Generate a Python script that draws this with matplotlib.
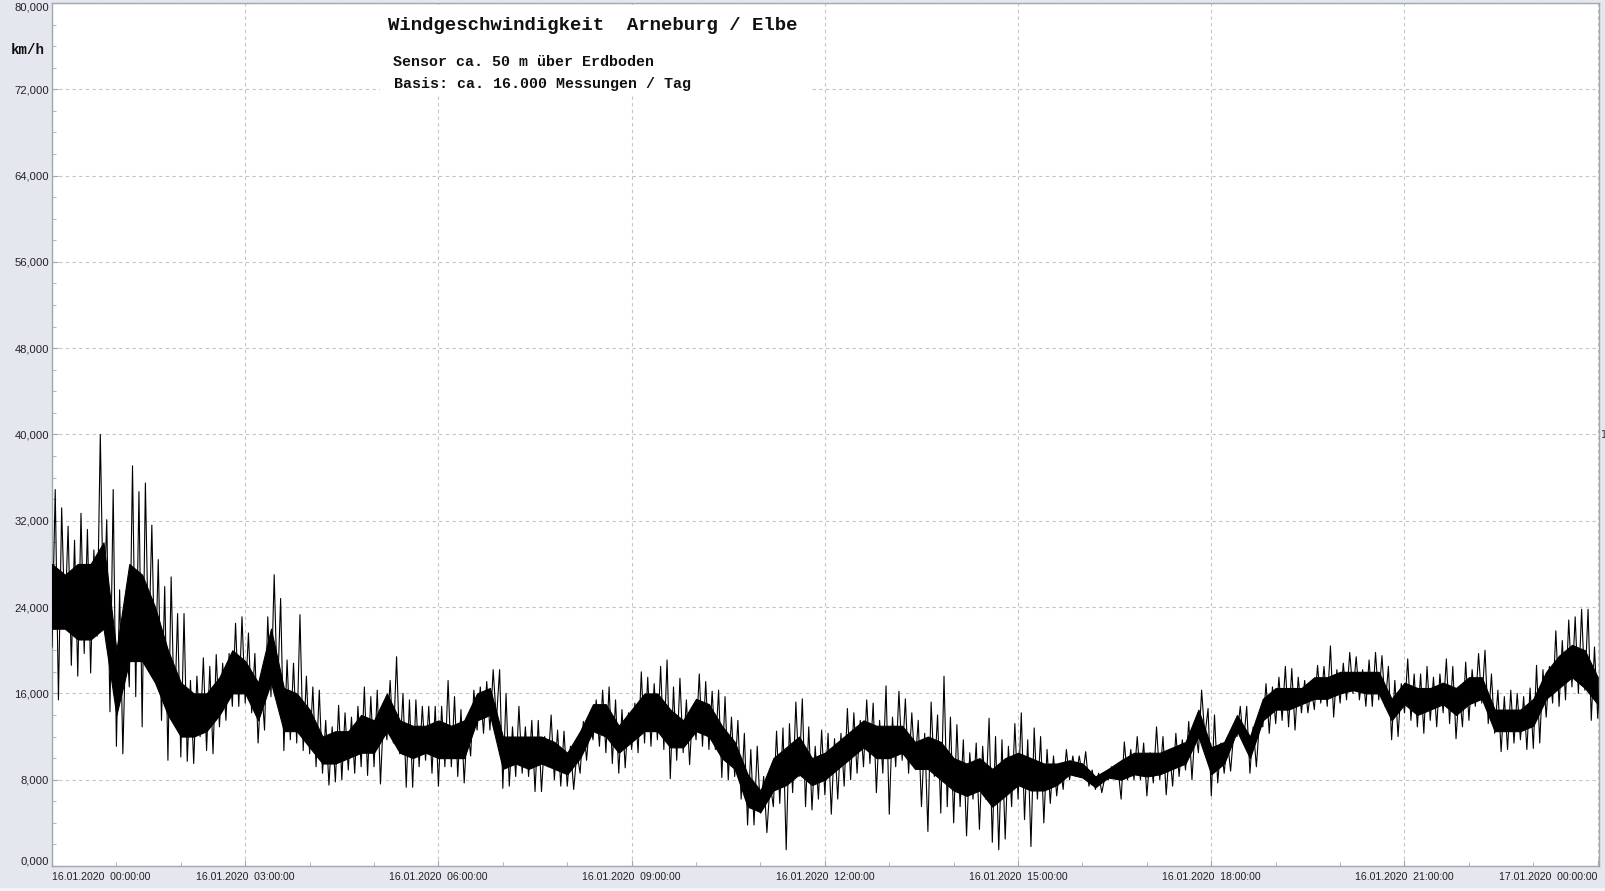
import matplotlib
matplotlib.use('Agg')
import matplotlib.pyplot as plt
from matplotlib.patches import Rectangle
import numpy as np

# wind speed km/h, min / max per 0.1 h bin, 16.01.2020 00:00 .. 17.01.2020 00:00
spd_hi = [
    34.9, 33.2, 31.5, 30.2, 32.7, 31.2, 29.3, 40.0, 32.1, 34.9,
    25.6, 22.2, 37.1, 34.7, 35.5, 31.6, 28.4, 25.9, 26.8, 23.4,
    23.4, 17.2, 17.6, 19.3, 18.5, 19.6, 18.8, 19.7, 22.5, 23.1,
    21.6, 19.7, 17.2, 23.1, 27.0, 24.8, 19.1, 18.8, 23.3, 17.6,
    16.6, 16.3, 13.5, 12.9, 14.9, 14.2, 13.8, 14.8, 16.6, 15.7,
    16.3, 14.5, 17.2, 19.4, 16.0, 15.4, 15.4, 14.8, 14.8, 14.8,
    14.8, 17.2, 15.7, 14.5, 13.2, 16.3, 16.6, 17.1, 18.2, 18.2,
    16.0, 12.9, 14.8, 12.9, 13.5, 13.5, 12.0, 14.0, 12.6, 12.5,
    11.1, 10.5, 13.4, 13.5, 15.4, 16.3, 16.6, 15.4, 14.5, 14.2,
    15.1, 18.0, 17.5, 16.9, 18.5, 19.1, 16.6, 17.4, 15.4, 14.8,
    17.8, 17.1, 16.2, 16.3, 15.7, 13.8, 13.5, 12.3, 10.8, 11.1,
    8.3, 7.7, 12.5, 12.8, 13.2, 15.2, 15.5, 12.9, 11.1, 12.6,
    12.3, 11.8, 12.3, 14.6, 14.2, 13.5, 15.4, 15.1, 13.5, 16.7,
    13.8, 16.2, 15.5, 14.2, 13.5, 12.3, 15.2, 14.0, 17.6, 13.8,
    13.1, 11.7, 10.5, 11.4, 11.1, 13.7, 12.0, 11.7, 11.1, 13.2,
    14.2, 11.7, 12.8, 12.0, 10.8, 10.2, 9.5, 10.8, 10.2, 10.2,
    10.6, 8.9, 8.6, 8.3, 9.2, 9.2, 11.5, 10.8, 12.0, 11.4,
    10.5, 12.9, 12.0, 10.8, 12.3, 11.7, 13.4, 12.9, 16.3, 14.6,
    14.0, 11.4, 11.7, 12.5, 14.8, 14.8, 12.9, 13.5, 16.9, 16.6,
    17.5, 18.5, 18.3, 17.5, 17.2, 16.6, 18.6, 18.5, 20.4, 18.2,
    18.8, 19.8, 19.4, 18.2, 19.1, 19.8, 19.5, 18.5, 17.2, 16.9,
    19.2, 17.8, 17.8, 18.5, 17.5, 17.8, 19.2, 18.5, 16.3, 18.9,
    18.2, 19.7, 20.0, 17.8, 16.3, 15.7, 16.3, 16.0, 15.7, 16.5,
    18.6, 18.2, 18.5, 21.8, 20.9, 22.8, 23.1, 23.8, 23.8, 20.3,
    18.8,
]
spd_lo = [
    20.3, 15.4, 22.4, 18.6, 17.6, 19.7, 17.9, 21.3, 22.8, 14.3,
    11.1, 10.4, 16.6, 15.7, 12.9, 19.7, 17.2, 13.5, 9.8, 13.5,
    10.1, 9.7, 9.5, 12.0, 10.7, 10.4, 12.9, 13.5, 14.8, 14.8,
    15.1, 14.2, 11.4, 12.6, 15.7, 15.7, 10.7, 11.7, 11.4, 10.7,
    10.4, 9.2, 8.6, 7.5, 7.8, 8.0, 8.9, 8.6, 9.2, 8.4,
    9.2, 7.6, 11.7, 11.4, 10.4, 7.3, 7.3, 9.2, 9.8, 8.6,
    7.4, 9.2, 9.2, 8.3, 7.7, 10.2, 12.6, 12.3, 12.6, 13.5,
    7.2, 7.4, 8.3, 8.6, 8.3, 6.9, 6.9, 9.2, 8.0, 7.4,
    7.4, 7.1, 8.6, 9.8, 11.7, 11.1, 10.5, 9.5, 8.6, 9.1,
    10.8, 10.5, 11.4, 11.1, 11.7, 10.8, 8.1, 9.8, 10.5, 9.4,
    11.7, 11.1, 10.8, 10.8, 8.2, 8.0, 8.3, 6.2, 3.8, 3.8,
    4.9, 3.1, 5.5, 5.8, 1.5, 6.8, 8.3, 5.5, 5.2, 6.2,
    6.6, 4.8, 6.2, 7.4, 8.0, 8.6, 9.2, 9.5, 6.8, 8.6,
    4.8, 9.2, 9.8, 8.6, 9.2, 5.5, 3.2, 8.3, 4.9, 5.5,
    4.0, 5.5, 2.8, 6.2, 3.4, 6.2, 2.2, 1.5, 2.5, 5.5,
    6.2, 4.3, 1.8, 6.2, 4.0, 5.8, 6.5, 7.1, 8.0, 8.3,
    8.3, 7.4, 7.1, 6.8, 8.0, 8.2, 6.2, 8.0, 8.0, 8.0,
    6.5, 7.7, 8.0, 6.6, 7.4, 8.3, 8.9, 8.0, 10.5, 12.0,
    6.5, 7.7, 8.6, 8.8, 12.0, 11.4, 8.6, 9.2, 12.9, 12.3,
    13.2, 13.5, 12.9, 12.6, 14.2, 14.2, 14.5, 15.1, 14.8, 13.8,
    15.1, 15.4, 16.0, 15.4, 14.8, 14.8, 15.4, 14.8, 11.7, 12.0,
    14.2, 13.5, 12.9, 12.3, 13.5, 12.9, 14.2, 13.2, 11.8, 12.9,
    13.5, 14.8, 15.1, 13.2, 12.3, 10.6, 10.8, 11.4, 11.7, 10.8,
    10.9, 11.4, 13.8, 15.1, 14.8, 15.4, 16.6, 16.0, 16.3, 13.5,
    13.7,
]
# dense core of the trace (where the line is solid black), every 0.2 h
core_lo = [
    22, 22, 21, 21, 22, 14, 19, 19, 17, 14,
    12, 12, 12.5, 14, 16, 16, 13.5, 17, 12.5, 12.5,
    11, 9.5, 9.5, 10, 10.5, 10.5, 12.5, 10.5, 10, 10.5,
    10, 10, 10, 13.5, 14, 9, 9.5, 9, 9.5, 9,
    8.5, 10, 12.5, 12, 10.5, 11.5, 12.5, 12.5, 11, 11,
    12.5, 12, 10, 9, 5.5, 5, 7, 7.5, 8.5, 7.5,
    8, 9, 10, 11, 10, 10, 10.5, 9, 9, 8,
    7, 6.5, 7, 5.5, 6.5, 7.5, 7, 7, 7.5, 8.5,
    8.2, 7.3, 8.2, 8, 8.5, 8.3, 8.5, 9, 9.5, 12,
    8.5, 9.5, 12.5, 10, 13.5, 14.5, 14.5, 15, 15.5, 15.5,
    16, 16.3, 16, 16, 13.5, 15, 14, 14.5, 15, 14,
    15, 15.5, 12.5, 12.5, 12.5, 13, 15.5, 16.5, 17.5, 16.5,
    15,
]
core_hi = [
    28, 27, 28, 28, 30, 20, 28, 27, 24, 20,
    17, 16, 16, 17.5, 20, 19, 17, 22, 16.5, 16,
    14.5, 12, 12.5, 12.5, 14, 13.5, 16, 13.5, 13, 13,
    13.5, 13, 13.5, 16, 16.5, 12, 12, 12, 12, 11.5,
    10.5, 12.5, 15, 15, 13, 14.5, 16, 16, 14.5, 13.5,
    15.5, 15, 13, 11.5, 8.5, 7, 10, 11, 12, 10,
    10.5, 11.5, 12.5, 13.5, 13, 13, 13, 11.5, 12, 11.5,
    10, 9.5, 10, 9, 10, 10.5, 10, 9.5, 9.5, 9.8,
    9.5, 8.3, 9.0, 9.8, 10.5, 10.5, 10.5, 11, 11.5, 14.5,
    11, 11.5, 14, 12, 15.5, 16.5, 16.5, 16.5, 17.5, 17.5,
    18, 18, 18, 18, 15.5, 17, 16.5, 16.5, 17, 16.5,
    17.5, 17.5, 14.5, 14.5, 14.5, 15.5, 18, 19.5, 20.5, 20,
    17.5,
]

x_major = [0, 3, 6, 9, 12, 15, 18, 21, 24]
x_labels = ['16.01.2020  00:00:00', '16.01.2020  03:00:00', '16.01.2020  06:00:00',
            '16.01.2020  09:00:00', '16.01.2020  12:00:00', '16.01.2020  15:00:00',
            '16.01.2020  18:00:00', '16.01.2020  21:00:00', '17.01.2020  00:00:00']
y_major = list(range(0, 81, 8))

W, H = 1605, 891
bg = '#e4e7ee'
fig = plt.figure(figsize=(W / 100, H / 100), dpi=100, facecolor=bg)
ax = fig.add_axes([52 / W, 1 - 866 / H, (1599 - 52) / W, (866 - 3) / H])
ax.set_facecolor('white')

# solid core + min/max of each bin joined as a zigzag
tc = np.arange(len(core_lo)) * 0.2
ax.fill_between(tc, core_lo, core_hi, color='black', lw=0.8, edgecolor='black', zorder=3)
t = np.arange(len(spd_hi)) * 0.1
xs = np.column_stack([t, t + 0.05]).ravel()
ys = np.column_stack([spd_lo, spd_hi]).ravel()
ax.plot(xs, ys, color='black', lw=0.8, zorder=3)

ax.set_xlim(0, 24.02)
ax.set_ylim(0, 80)

ax.set_xticks(x_major)
ax.set_xticklabels(x_labels)
ax.set_xticks(np.arange(0, 25, 1), minor=True)
ax.set_yticks(y_major)
ax.set_yticklabels([('%.3f' % v).replace('.', ',') for v in y_major])
ax.set_yticks(np.arange(0, 81, 2), minor=True)

for lab in ax.get_xticklabels() + ax.get_yticklabels():
    lab.set_fontfamily('Liberation Sans')
xl = ax.get_xticklabels()
xl[0].set_ha('left')
xl[-1].set_ha('right')
yl = ax.get_yticklabels()
yl[0].set_va('bottom')
yl[-1].set_va('top')

ax.tick_params(which='both', direction='in', color='#a8a8a8')
ax.tick_params(which='major', length=4, labelsize=8.1, labelcolor='#222222')
ax.tick_params(which='minor', length=3)
ax.tick_params(axis='y', pad=2)
ax.tick_params(axis='x', pad=4, labelsize=7.6)

ax.grid(which='major', color='#c4c4c4', linestyle=(0, (3, 3)), lw=0.8)
for s in ax.spines.values():
    s.set_color('#a3a7b0')
    s.set_linewidth(1.0)

# white box behind the heading
ax.add_patch(Rectangle((380 / W, 1 - 94 / H), (812 - 380) / W, (94 - 5) / H,
                       transform=fig.transFigure, facecolor='white', edgecolor='none',
                       zorder=2, clip_on=False))

mono = 'Liberation Mono'
fig.text(388 / W, 1 - 25 / H, 'Windgeschwindigkeit  Arneburg / Elbe', fontfamily=mono,
         fontweight='bold', fontsize=13.7, va='center', ha='left', color='#111111')
fig.text(393 / W, 1 - 62 / H, 'Sensor ca. 50 m über Erdboden', fontfamily=mono,
         fontweight='bold', fontsize=10.8, va='center', ha='left', color='#111111')
fig.text(394 / W, 1 - 84 / H, 'Basis: ca. 16.000 Messungen / Tag', fontfamily=mono,
         fontweight='bold', fontsize=10.8, va='center', ha='left', color='#111111')
fig.text(11 / W, 1 - 50 / H, 'km/h', fontfamily=mono, fontweight='bold', fontsize=10.2,
         va='center', ha='left', color='#111111')
fig.text(1601 / W, 1 - 435 / H, '1', fontsize=7, va='center', ha='left', color='#333333')

fig.patches.append(Rectangle((0, 0), 1, 3 / H, transform=fig.transFigure,
                             facecolor='#f3f4f7', edgecolor='none'))

fig.savefig('out.png', dpi=100, facecolor=bg)
